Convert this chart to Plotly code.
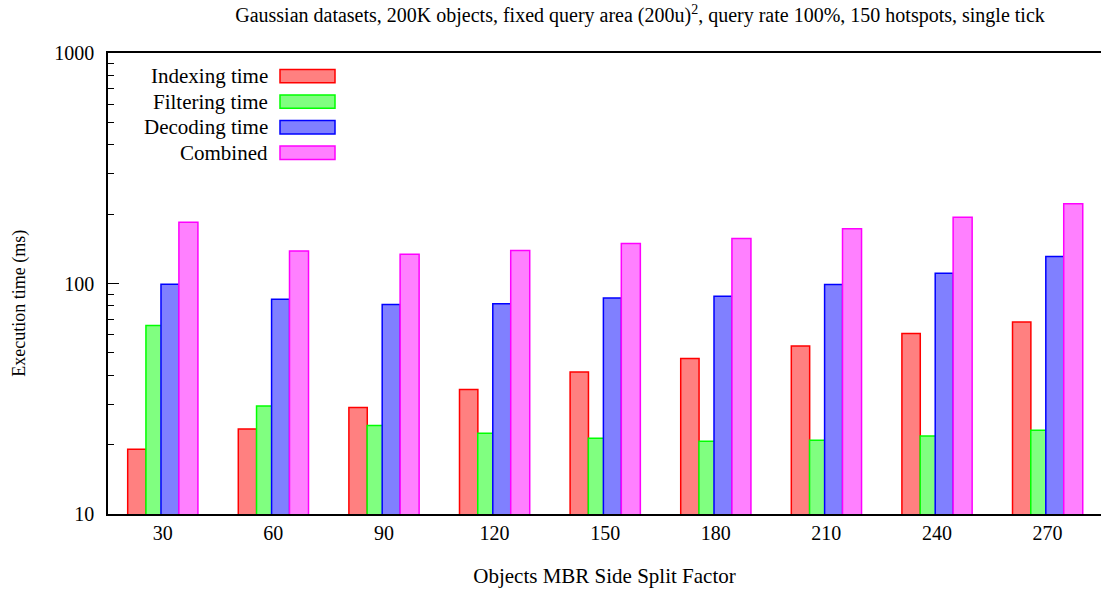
import plotly.graph_objects as go

categories = ["30", "60", "90", "120", "150", "180", "210", "240", "270"]
indexing = [19.1, 23.4, 29.0, 34.7, 41.3, 47.3, 53.6, 60.7, 68.0]
filtering = [65.8, 29.4, 24.2, 22.4, 21.3, 20.7, 20.9, 21.8, 23.1]
decoding = [99.3, 85.5, 81.1, 81.6, 86.6, 88.1, 99.0, 110.8, 130.9]
combined = [184.4, 138.5, 134.0, 139.0, 149.0, 156.7, 173.0, 193.8, 222.0]

series = [
    ("Indexing time", indexing, "#FF8080", "#FF0000", -0.317, 0.166),
    ("Filtering time", filtering, "#80FF80", "#00FF00", -0.152, 0.166),
    ("Decoding time", decoding, "#8080FF", "#0000FF", -0.016, 0.163),
    ("Combined", combined, "#FF80FF", "#FF00FF", 0.146, 0.172),
]

FONT = "Liberation Serif"
xpos = list(range(len(categories)))

fig = go.Figure()
for name, vals, fill, edge, off, w in series:
    fig.add_trace(go.Bar(
        x=xpos, y=vals, name=name, offset=off, width=w,
        marker=dict(color=fill, line=dict(color=edge, width=1.5)),
        showlegend=False,
    ))

L, W, H = 1101 - 108, 1101, 594
PH = 514 - 52.6

# custom legend (text left of swatch, right aligned)
for i, (name, vals, fill, edge, off, w) in enumerate(series):
    yc = 75.7 + i * 25.6
    fig.add_shape(type="rect", xref="paper", yref="paper",
                  x0=(280 - 108) / L, x1=(335 - 108) / L,
                  y0=(514 - (yc - 6.7)) / PH, y1=(514 - (yc + 6.7)) / PH,
                  fillcolor=fill, line=dict(color=edge, width=1.5))
    fig.add_annotation(xref="paper", yref="paper",
                       x=(270 - 108) / L, y=(514 - yc) / PH,
                       text=name, showarrow=False, xanchor="right", yanchor="middle",
                       font=dict(family=FONT, size=21, color="black"))

# y-axis title
fig.add_annotation(xref="paper", yref="paper",
                   x=(20 - 108) / L, y=(514 - 303.5) / PH,
                   text="Execution time (ms)", textangle=-90, showarrow=False,
                   xanchor="center", yanchor="middle",
                   font=dict(family=FONT, size=18, color="black"))

fig.update_layout(
    width=W, height=H,
    margin=dict(l=108, r=0, t=52.6, b=80),
    paper_bgcolor="white", plot_bgcolor="white",
    barmode="overlay",
    font=dict(family=FONT, size=20, color="black"),
    title=dict(text="Gaussian datasets, 200K objects, fixed query area (200u)<sup>2</sup>, query rate 100%, 150 hotspots, single tick",
               x=640 / W, xanchor="center", y=1 - 15 / H, yanchor="middle",
               font=dict(family=FONT, size=20)),
    xaxis=dict(range=[-0.495, 8.483], tickmode="array", tickvals=xpos, ticktext=categories,
               showline=True, linecolor="black", linewidth=1.5, mirror=True,
               ticks="", showgrid=False, zeroline=False,
               title=dict(text="Objects MBR Side Split Factor", font=dict(size=21), standoff=26),
               tickfont=dict(size=20)),
    yaxis=dict(type="log", range=[1, 3], tickvals=[10, 100, 1000], ticktext=["10", "100", "1000"],
               showline=True, linecolor="black", linewidth=1.5,
               ticks="inside", ticklen=11, tickwidth=1, tickcolor="black",
               ticklabelstandoff=8,
               minor=dict(ticks="inside", ticklen=6, tickcolor="black", tickwidth=1, dtick="D1", showgrid=False),
               showgrid=False, zeroline=False,
               tickfont=dict(size=20)),
)

fig.write_html("out.html")
